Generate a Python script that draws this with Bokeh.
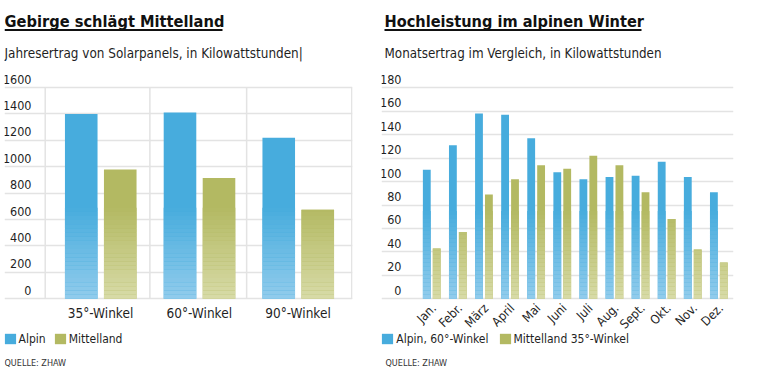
import math
from bokeh.plotting import figure
from bokeh.models import Range1d, Grid, FixedTicker, Legend, LegendItem
from bokeh.layouts import row
from bokeh.embed import file_html
from bokeh.resources import INLINE
from bokeh.core.properties import value

# ---------------- data ----------------
ANGLES = ["35°-Winkel", "60°-Winkel", "90°-Winkel"]
ALPIN_YEAR = [1400, 1410, 1220]
MITTEL_YEAR = [980, 915, 675]
Y_TICKS_LEFT = [0, 200, 400, 600, 800, 1000, 1200, 1400, 1600]

MONTHS = ["Jan.", "Febr.", "März", "April", "Mai", "Juni", "Juli", "Aug.", "Sept.", "Okt.", "Nov.", "Dez."]
ALPIN_MONTH = [110, 131, 158, 157, 137, 108, 102, 104, 105, 117, 104, 91]
MITTEL_MONTH = [43, 57, 89, 102, 114, 111, 122, 114, 91, 68, 42, 31]
Y_TICKS_RIGHT = [0, 20, 40, 60, 80, 100, 120, 140, 160, 180]

# ---------------- styles ----------------
FONT = "DejaVu Sans Condensed, Roboto"
TXT = "#1f1f1f"
BLUE_TOP, BLUE_BOT = (71, 172, 221), (146, 204, 236)
GREEN_TOP, GREEN_BOT = (179, 185, 98), (216, 219, 168)
GRID = "#e3e3e3"


def hexc(c):
    return "#%02x%02x%02x" % tuple(int(round(v)) for v in c)


def lerp(a, b, t):
    return tuple(a[i] + (b[i] - a[i]) * t for i in range(3))


# page-pixel geometry helpers (layout only); y measured from page top
PAGE_TOP, PAGE_BOTTOM = 0, 383
ZERO_Y = 298.3


def make_fig(width, frame_left, frame_right, xmap, ymap, border_left, border_right):
    p = figure(width=width, height=PAGE_BOTTOM - PAGE_TOP,
               x_range=Range1d(xmap(frame_left), xmap(frame_right)),
               y_range=Range1d(ymap(PAGE_BOTTOM), ymap(PAGE_TOP)),
               x_axis_type=None, y_axis_type=None,
               min_border_left=border_left, min_border_top=0, min_border_bottom=0,
               min_border_right=border_right,
               outline_line_color=None, toolbar_location=None,
               output_backend="svg")
    p.background_fill_color = "white"
    p.border_fill_color = "white"
    return p


def gradient_bars(p, xs, vals, width, top, bot, gmax, n=22):
    for k in range(n):
        lo, hi = gmax * k / n, gmax * (k + 1) / n
        sel = [i for i, v in enumerate(vals) if v > lo]
        if not sel:
            continue
        col = hexc(lerp(bot, top, (k + 0.5) / n))
        p.vbar(x=[xs[i] for i in sel], bottom=[lo] * len(sel),
               top=[min(vals[i], hi) for i in sel], width=width,
               fill_color=col, line_color=None)


def add_text(p, x, y, t, size, align="left", baseline="middle", bold=False,
             color=TXT, angle=0, x_offset=0, y_offset=0):
    p.text(x=x, y=y, text=t, text_font=value(FONT), text_font_size=size,
           text_align=align, text_baseline=baseline,
           text_font_style="bold" if bold else "normal", text_color=color,
           angle=angle, x_offset=x_offset, y_offset=y_offset)


def make_legend(items, spacing, loc):
    return Legend(items=items, orientation="horizontal", location=loc,
                  glyph_width=14, glyph_height=13, label_height=13, label_standoff=2,
                  spacing=spacing, padding=0, margin=0, border_line_alpha=0,
                  background_fill_alpha=0, label_text_font=FONT,
                  label_text_font_size="12px", label_text_color=TXT)


# ================= left chart =================
lx = lambda px: (px - 100.0) / 98.75
ly = lambda py: (ZERO_Y - py) / (211.3 / 1600)

p1 = make_fig(381, 4, 352, lx, ly, 4, 29)
p1.add_layout(Grid(dimension=1, ticker=FixedTicker(ticks=Y_TICKS_LEFT),
                   grid_line_color=GRID, grid_line_width=1.5))
bounds = [-0.56, 0.5, 1.48, 2.545]
p1.segment(x0=bounds, y0=[0] * 4, x1=bounds, y1=[Y_TICKS_LEFT[-1]] * 4,
           line_color=GRID, line_width=1.5)

xa = [i - 0.195 for i in range(len(ANGLES))]
xm = [i + 0.2 for i in range(len(ANGLES))]
ra = p1.vbar(x=xa, top=ALPIN_YEAR, width=0.33, fill_color=hexc(BLUE_TOP), line_color=None)
rm = p1.vbar(x=xm, top=MITTEL_YEAR, width=0.33, fill_color=hexc(GREEN_TOP), line_color=None)
gradient_bars(p1, xa, ALPIN_YEAR, 0.33, BLUE_TOP, BLUE_BOT, 690)
gradient_bars(p1, xm, MITTEL_YEAR, 0.33, GREEN_TOP, GREEN_BOT, 690)

add_text(p1, [lx(31)] * len(Y_TICKS_LEFT), Y_TICKS_LEFT, [str(t) for t in Y_TICKS_LEFT],
         "12.5px", align="right", y_offset=-8.5)
add_text(p1, list(range(len(ANGLES))), [0] * len(ANGLES), ANGLES, "13.5px",
         align="center", y_offset=14)

add_text(p1, [lx(4)], [ly(20.5)], ["Gebirge schlägt Mittelland"], "16.3px", bold=True, color="#111111")
p1.segment(x0=[lx(4)], y0=[ly(29.5)], x1=[lx(222)], y1=[ly(29.5)], line_color="#111111", line_width=2)
add_text(p1, [lx(4)], [ly(53.3)], ["Jahresertrag von Solarpanels, in Kilowattstunden|"], "13.4px")
add_text(p1, [lx(4)], [ly(362.5)], ["QUELLE: ZHAW"], "9px", color="#333333")

p1.add_layout(make_legend([LegendItem(label="Alpin", renderers=[ra]),
                           LegendItem(label="Mittelland", renderers=[rm])], 7, (-1.4, 37.5)))

# ================= right chart =================
rx = lambda px: (px - 431.25) / 26.1
ry = lambda py: (ZERO_Y - py) / (211.0 / 180)

p2 = make_fig(383, 381, 733, rx, ry, 0, 31)
p2.add_layout(Grid(dimension=1, ticker=FixedTicker(ticks=Y_TICKS_RIGHT),
                   grid_line_color=GRID, grid_line_width=1.5))

mx = list(range(len(MONTHS)))
xa2 = [i - 0.19 for i in mx]
xm2 = [i + 0.19 for i in mx]
ra2 = p2.vbar(x=xa2, top=ALPIN_MONTH, width=0.3, fill_color=hexc(BLUE_TOP), line_color=None)
rm2 = p2.vbar(x=xm2, top=MITTEL_MONTH, width=0.3, fill_color=hexc(GREEN_TOP), line_color=None)
gradient_bars(p2, xa2, ALPIN_MONTH, 0.3, BLUE_TOP, BLUE_BOT, 75)
gradient_bars(p2, xm2, MITTEL_MONTH, 0.3, GREEN_TOP, GREEN_BOT, 75)

add_text(p2, [rx(401)] * len(Y_TICKS_RIGHT), Y_TICKS_RIGHT, [str(t) for t in Y_TICKS_RIGHT],
         "12.5px", align="right", y_offset=-8.5)
add_text(p2, mx, [0] * len(MONTHS), MONTHS, "12.5px", align="right", baseline="middle",
         angle=math.pi / 4, x_offset=2, y_offset=7)

add_text(p2, [rx(384)], [ry(20.5)], ["Hochleistung im alpinen Winter"], "16.2px", bold=True, color="#111111")
p2.segment(x0=[rx(384)], y0=[ry(29.5)], x1=[rx(641)], y1=[ry(29.5)], line_color="#111111", line_width=2)
add_text(p2, [rx(384)], [ry(53.3)], ["Monatsertrag im Vergleich, in Kilowattstunden"], "13.3px")
add_text(p2, [rx(385)], [ry(362.5)], ["QUELLE: ZHAW"], "9px", color="#333333")

p2.add_layout(make_legend([LegendItem(label="Alpin, 60°-Winkel", renderers=[ra2]),
                           LegendItem(label="Mittelland 35°-Winkel", renderers=[rm2])], 9, (-0.7, 37.5)))

layout = row(p1, p2)

with open("out.html", "w") as f:
    f.write(file_html(layout, INLINE))
